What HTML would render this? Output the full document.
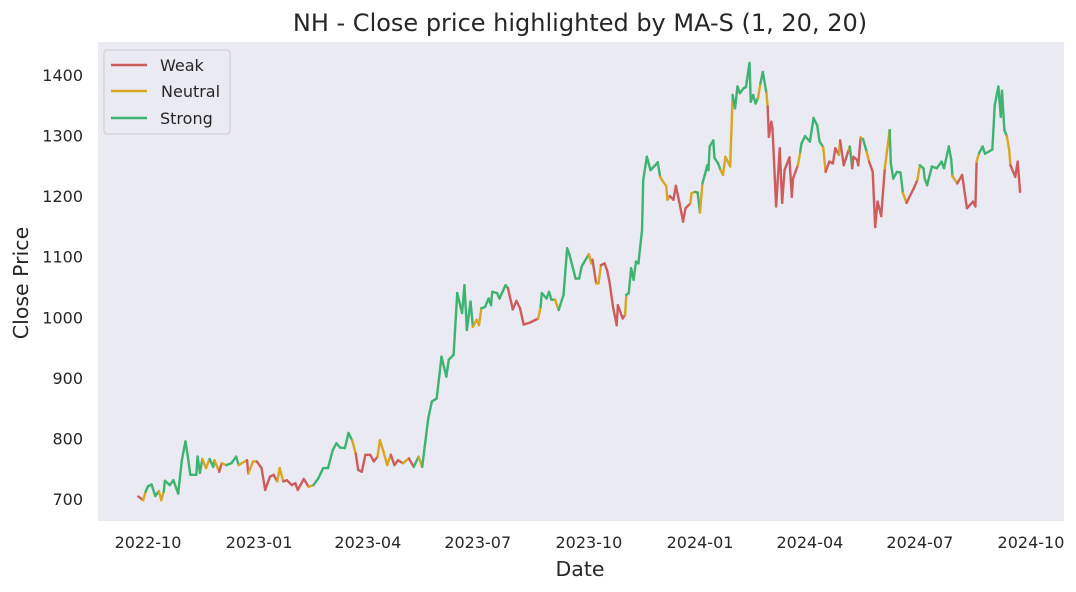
<!DOCTYPE html>
<html><head><meta charset="utf-8"><style>
html,body{margin:0;padding:0;background:#fff;}
svg{display:block;font-family:"DejaVu Sans","Liberation Sans",sans-serif;}
</style></head><body>
<svg id="chart" width="1076" height="592" viewBox="0 0 1076 592" xmlns="http://www.w3.org/2000/svg">
<rect x="98" y="42" width="966" height="479" fill="#eaeaf2"/>
<text x="580" y="31" text-anchor="middle" font-size="24" fill="#262626">NH - Close price highlighted by MA-S (1, 20, 20)</text>
<text x="580" y="576" text-anchor="middle" font-size="20.5" fill="#262626">Date</text>
<text x="28" y="283" text-anchor="middle" font-size="20.5" fill="#262626" transform="rotate(-90 28 283)">Close Price</text>
<g id="xticks"></g>
<g id="yticks"></g>
<g id="lines"></g>
<g>
<rect x="104" y="50" width="126" height="84" rx="3" fill="#eaeaf2" fill-opacity="0.8" stroke="#cccccc"/>
<line x1="111" y1="65" x2="147" y2="65" stroke="#cd5c5c" stroke-width="2.5"/>
<text x="160" y="71" font-size="16" fill="#262626">Weak</text>
<line x1="111" y1="91" x2="147" y2="91" stroke="#daa520" stroke-width="2.5"/>
<text x="161" y="97" font-size="16" fill="#262626">Neutral</text>
<line x1="111" y1="118" x2="147" y2="118" stroke="#3cb371" stroke-width="2.5"/>
<text x="160" y="124" font-size="16" fill="#262626">Strong</text>
</g>
</svg>
<script>
// days since 2022-10-01
const days=[-8,-4,-2,0,3,6,9,11,13,14,18,21,25,28,31,33,35,40,41,43,45,48,51,54,55,59,61,65,69,73,75,82,83,87,90,94,97,101,104,107,109,112,115,119,122,124,129,133,137,141,145,149,153,156,159,163,166,169,172,174,177,180,184,187,190,192,195,198,201,204,207,211,216,220,224,227,232,235,239,243,247,249,253,256,260,262,264,267,269,272,274,276,279,282,284,285,289,291,296,298,302,305,308,311,316,323,325,326,330,332,334,337,340,344,347,349,354,357,359,365,367,368,371,373,375,378,380,382,385,388,389,393,395,396,398,400,402,404,406,409,410,413,416,420,422,424,426,429,430,432,435,437,440,443,445,449,450,453,455,457,459,461,463,464,465,468,469,472,474,476,478,482,484,486,488,490,493,495,498,499,501,503,505,507,509,512,513,514,516,517,520,523,525,527,531,533,534,538,540,541,544,548,551,554,556,559,561,564,567,569,572,573,576,580,581,583,584,587,588,590,592,595,597,600,602,604,607,610,614,615,617,620,623,625,628,634,637,639,642,643,645,649,653,657,659,663,665,666,670,674,678,683,685,686,688,691,693,699,701,704,706,707,709,711,713,714,718,720,722];
const prices=[704,698,712,721,724,705,713,698,712,730,723,731,709,764,795,770,740,740,770,743,766,751,766,753,764,745,759,756,759,770,756,764,742,762,762,751,715,737,740,729,751,729,731,723,726,715,733,720,723,734,751,751,781,792,785,784,809,797,775,748,745,773,773,762,770,797,778,756,773,756,764,759,767,753,770,753,833,861,866,935,902,930,938,1040,1007,1053,979,1026,984,996,987,1015,1017,1031,1020,1042,1040,1031,1053,1048,1013,1027,1015,988,991,998,1017,1040,1031,1042,1029,1029,1012,1037,1114,1103,1064,1064,1084,1104,1089,1095,1056,1056,1086,1089,1078,1059,1017,987,1020,998,1004,1037,1040,1081,1062,1092,1089,1144,1227,1265,1243,1251,1256,1232,1225,1217,1194,1200,1194,1217,1189,1158,1180,1188,1205,1207,1206,1173,1221,1235,1251,1243,1282,1292,1263,1254,1243,1235,1265,1249,1367,1345,1381,1370,1378,1380,1420,1356,1367,1353,1362,1386,1405,1370,1348,1298,1323,1312,1183,1279,1189,1243,1264,1199,1229,1251,1273,1287,1299,1290,1329,1317,1290,1281,1240,1257,1254,1279,1268,1292,1251,1276,1282,1246,1265,1260,1251,1297,1294,1273,1257,1240,1149,1191,1167,1246,1309,1254,1229,1240,1239,1205,1189,1213,1227,1251,1246,1229,1218,1249,1246,1257,1246,1282,1260,1233,1221,1235,1180,1191,1183,1257,1271,1282,1270,1277,1350,1381,1331,1374,1309,1299,1276,1251,1232,1257,1207];
const regimes="WWNSSSSNNSSSSSSSSSSSSNNSSNWNSSSNWNNWWWWWNNWWWWWWNSSSSSSSSSNWWWWWWNNNNWWWNWSNSSSSSSSSSSSSSNNNSSSSSSSSWWWWWWNSSSSSNSSSSSSSNNWNNWWWWWWWWNSSSSSSSSSSSSNNNNWWWWWWNNSSNSSSSSSSSNNNNSSSSSSSSSSNSSNWWWWWWWWWWWNSSSSSSSNWWWWNWWNSWWWWNSNWWWWWNSSSSSNWWNSSSSSSSSSSNWWWWWNSSSSSSSSSNNWWWW";
const xTickDays=[0,92,182,273,365,457,548,639,731];
const xTickLabels=["2022-10","2023-01","2023-04","2023-07","2023-10","2024-01","2024-04","2024-07","2024-10"];
const yTickValues=[700,800,900,1000,1100,1200,1300,1400];
const colorMap={W:"#cd5c5c",N:"#daa520",S:"#3cb371"};
const NS="http://www.w3.org/2000/svg";
function xs(d){return 148+d*1.2079;}
function ys(p){return 499-(p-700)*0.6057;}
const xt=document.getElementById('xticks');
xTickDays.forEach((d,i)=>{
  const t=document.createElementNS(NS,'text');
  t.setAttribute('x',xs(d));t.setAttribute('y',548);t.setAttribute('text-anchor','middle');
  t.setAttribute('font-size','16');t.setAttribute('fill','#262626');
  
  
  t.textContent=xTickLabels[i];xt.appendChild(t);
});
const yt=document.getElementById('yticks');
yTickValues.forEach(v=>{
  const t=document.createElementNS(NS,'text');
  t.setAttribute('x',83);t.setAttribute('y',ys(v)+6);t.setAttribute('text-anchor','end');
  t.setAttribute('font-size','16');t.setAttribute('fill','#262626');
  
  
  t.textContent=v;yt.appendChild(t);
});
const lg=document.getElementById('lines');
for(let i=1;i<prices.length;i++){
  const l=document.createElementNS(NS,'line');
  l.setAttribute('x1',xs(days[i-1]));l.setAttribute('y1',ys(prices[i-1]));
  l.setAttribute('x2',xs(days[i]));l.setAttribute('y2',ys(prices[i]));
  l.setAttribute('stroke',colorMap[regimes[i]]||colorMap.S);
  l.setAttribute('stroke-width','2.4');l.setAttribute('stroke-linecap','round');
  
  
  lg.appendChild(l);
}
</script>
</body></html>
